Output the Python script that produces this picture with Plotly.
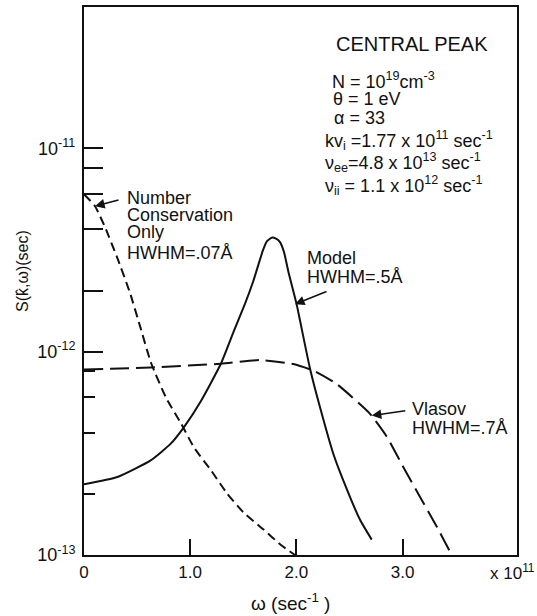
import plotly.graph_objects as go

# ---- data (omega in units of 1e11 sec^-1, S in sec) ----
nc_w = [0, 0.104, 0.198, 0.311, 0.433, 0.527, 0.631, 0.772, 0.914, 1.036, 1.196, 1.347, 1.507, 1.695, 1.855, 1.987]
nc_s = [5.95e-12, 5.20e-12, 4.10e-12, 2.92e-12, 1.95e-12, 1.34e-12, 8.83e-13, 5.95e-13, 4.44e-13,
        3.38e-13, 2.61e-13, 2.01e-13, 1.61e-13, 1.33e-13, 1.12e-13, 1.0e-13]

model_w = [0, 0.314, 0.628, 0.817, 0.942, 1.099, 1.288, 1.413, 1.516, 1.595, 1.686, 1.724, 1.768,
           1.808, 1.846, 1.884, 1.924, 2.003, 2.035, 2.129, 2.223, 2.348, 2.442, 2.600, 2.710]
model_s = [2.23e-13, 2.42e-13, 2.92e-13, 3.53e-13, 4.26e-13, 5.69e-13, 8.70e-13, 1.27e-12, 1.72e-12,
           2.23e-12, 3.16e-12, 3.50e-12, 3.64e-12, 3.60e-12, 3.46e-12, 3.09e-12, 2.49e-12, 1.71e-12,
           1.42e-12, 8.25e-13, 5.33e-13, 3.15e-13, 2.33e-13, 1.49e-13, 1.19e-13]

vl_w = [0, 0.628, 1.288, 1.658, 1.971, 2.160, 2.380, 2.694, 2.851, 3.007, 3.165, 3.322, 3.463]
vl_s = [8.17e-13, 8.37e-13, 8.73e-13, 9.10e-13, 8.70e-13, 8.07e-13, 6.94e-13, 4.95e-13, 3.83e-13,
        2.71e-13, 1.93e-13, 1.38e-13, 1.0e-13]

x_tickvals = [0, 1, 2, 3]
x_ticktext = ["0", "1.0", "2.0", "3.0"]
y_tickvals = [1e-13, 1e-12, 2e-12, 4e-12, 6e-12, 8e-12, 1e-11]
y_ticktext = ["10<sup>-13</sup>", "10<sup>-12</sup>", "", "", "", "", "10<sup>-11</sup>"]
y_minor = [2e-13, 4e-13, 6e-13, 8e-13]

FONT = "Liberation Sans, Arial, sans-serif"
INK = "#111111"

W, H = 537, 616
L, R, T, B = 84, 517, 5, 555


def P(px, py):
    return (px - L) / (R - L), (B - py) / (B - T)


fig = go.Figure()
fig.add_trace(go.Scatter(x=nc_w, y=nc_s, mode="lines",
                         line=dict(color=INK, width=2, dash="9px,5px", shape="spline", smoothing=0.5)))
fig.add_trace(go.Scatter(x=model_w, y=model_s, mode="lines",
                         line=dict(color=INK, width=2, shape="spline", smoothing=0.5)))
fig.add_trace(go.Scatter(x=vl_w, y=vl_s, mode="lines",
                         line=dict(color=INK, width=2, dash="19px,7px", shape="spline", smoothing=0.5)))

annos = []


def text(s, px, py, size=18, xanchor="left"):
    xp, yp = P(px, py)
    annos.append(dict(text=s, x=xp, y=yp, xref="paper", yref="paper", xanchor=xanchor, yanchor="middle",
                      showarrow=False, font=dict(family=FONT, size=size, color=INK)))


def arrow(hx, hy, tx, ty):
    annos.append(dict(text="", x=hx, y=hy, ax=tx, ay=ty, xref="x", yref="y", axref="x", ayref="y",
                      showarrow=True, arrowhead=2, arrowsize=1.2, arrowwidth=1.6, arrowcolor=INK))


text("CENTRAL PEAK", 412, 42, 20, "center")
text("N = 10<sup>19</sup>cm<sup>-3</sup>", 330, 79)
text("θ = 1 eV", 331, 97)
text("α = 33", 332, 116)
text("kv<sub>i</sub> =1.77 x 10<sup>11</sup> sec<sup>-1</sup>", 323, 139)
text("ν<sub>ee</sub>=4.8 x 10<sup>13</sup> sec<sup>-1</sup>", 323, 161)
text("ν<sub>ii</sub> = 1.1 x 10<sup>12</sup> sec<sup>-1</sup>", 323, 184)

text("Number", 125, 197)
text("Conservation", 125, 214)
text("Only", 125, 231)
text("HWHM=.07Å", 125, 252)

text("Model", 305, 257)
text("HWHM=.5Å", 305, 276)

text("Vlasov", 410, 408)
text("HWHM=.7Å", 410, 428)

text("x 10<sup>11</sup>", 488, 572, 17)
text("ω (sec<sup>-1</sup> )", 290, 602, 19, "center")

xp, yp = P(22, 270)
annos.append(dict(text="S(k\u0302,ω)(sec)", x=xp, y=yp, xref="paper", yref="paper", xanchor="center",
                  yanchor="middle", textangle=-90, showarrow=False, font=dict(family=FONT, size=16, color=INK)))

arrow(0.104, -11.284, 0.339, -11.2515)
arrow(1.987, -11.766, 2.298, -11.701)
arrow(2.710, -12.314, 3.040, -12.289)

fig.update_layout(
    width=W, height=H, margin=dict(l=L, r=W - R, t=T, b=H - B),
    paper_bgcolor="white", plot_bgcolor="white", showlegend=False,
    font=dict(family=FONT, color=INK),
    annotations=annos,
    xaxis=dict(range=[0, (R - L) / 106.17], tickmode="array", tickvals=x_tickvals, ticktext=x_ticktext,
               ticks="inside", ticklen=16, tickwidth=1.5, tickcolor=INK, showgrid=False, zeroline=False,
               showline=True, linecolor=INK, linewidth=2, mirror=True, tickfont=dict(size=17),
               ticklabelstandoff=1),
    yaxis=dict(type="log", range=[-13, -13 + (B - T) / 204.0], tickmode="array", tickvals=y_tickvals,
               ticktext=y_ticktext, ticks="inside", ticklen=19, tickwidth=1.5, tickcolor=INK,
               showgrid=False, zeroline=False, showline=True, linecolor=INK, linewidth=2, mirror=True,
               tickfont=dict(size=18), ticklabelstandoff=3,
               minor=dict(tickmode="array", tickvals=y_minor, ticks="inside", ticklen=11, tickwidth=1.5,
                          tickcolor=INK, showgrid=False)),
)

fig.write_html("out.html", config={"displayModeBar": False},
               post_script="document.body.style.margin='0';document.body.style.padding='0';")
